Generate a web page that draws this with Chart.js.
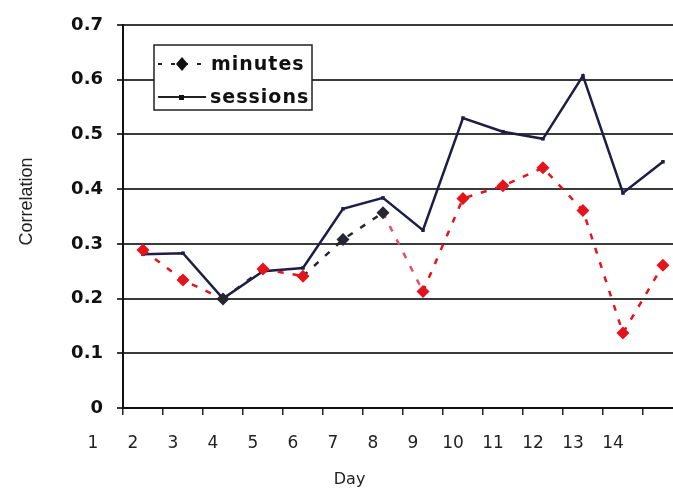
<!DOCTYPE html>
<html>
<head>
<meta charset="utf-8">
<script src="https://cdn.jsdelivr.net/npm/chart.js@4.4.1/dist/chart.umd.min.js"></script>
<style>
  html, body { margin: 0; padding: 0; background: #fff; overflow: hidden; }
  #wrap { width: 692px; height: 491px; position: relative; }
</style>
</head>
<body>
<div id="wrap"><canvas id="myChart"></canvas></div>
<script>
const days = ["1", "2", "3", "4", "5", "6", "7", "8", "9", "10", "11", "12", "13", "14"];
const minutes = [0.289, 0.234, 0.199, 0.254, 0.241, 0.308, 0.357, 0.213, 0.383, 0.406, 0.439, 0.361, 0.137, 0.261];
const sessions = [0.281, 0.283, 0.200, 0.250, 0.256, 0.364, 0.384, 0.325, 0.530, 0.505, 0.492, 0.607, 0.393, 0.450];

const RED = "#e3141b";
const NAVY = "#1d1d45";
const DARK = "#262630";

// the scan shows some minutes markers/segments dark, most red
const minutesPointColors = [RED, RED, DARK, RED, RED, DARK, DARK, RED, RED, RED, RED, RED, RED, RED];
const minutesSegColors = [RED, RED, DARK, RED, DARK, DARK, "#e0506a", RED, RED, RED, RED, RED, RED];

const NB = "\u00a0";

const legendBox = {
  id: "legendBox",
  afterDatasetsDraw(chart) {
    const c = chart.ctx;
    const x0 = chart.chartArea.left + 31;
    const y0 = chart.chartArea.top + 20;
    c.save();
    c.fillStyle = "#fff";
    c.fillRect(x0, y0, 158, 65);
    c.strokeStyle = "#222";
    c.lineWidth = 1.5;
    c.strokeRect(x0, y0, 158, 65);

    // minutes
    c.strokeStyle = "#222";
    c.lineWidth = 2;
    c.setLineDash([4, 9]);
    c.beginPath();
    c.moveTo(x0 + 4, y0 + 19);
    c.lineTo(x0 + 52, y0 + 19);
    c.stroke();
    c.setLineDash([]);
    c.fillStyle = "#111";
    c.beginPath();
    c.moveTo(x0 + 28, y0 + 12);
    c.lineTo(x0 + 34, y0 + 19);
    c.lineTo(x0 + 28, y0 + 26);
    c.lineTo(x0 + 22, y0 + 19);
    c.closePath();
    c.fill();

    // sessions
    c.lineWidth = 2;
    c.beginPath();
    c.moveTo(x0 + 4, y0 + 52);
    c.lineTo(x0 + 52, y0 + 52);
    c.stroke();
    c.fillRect(x0 + 25, y0 + 50, 5, 5);

    c.font = "bold 19px 'DejaVu Sans'";
    c.letterSpacing = "1px";
    c.textBaseline = "middle";
    c.fillStyle = "#111";
    c.fillText("minutes", x0 + 57, y0 + 20);
    c.fillText("sessions", x0 + 56, y0 + 53);
    c.restore();
  }
};

new Chart(document.getElementById("myChart"), {
  type: "line",
  data: {
    labels: days,
    datasets: [
      {
        label: "minutes",
        data: minutes,
        borderColor: RED,
        borderWidth: 2.5,
        borderDash: [6, 9],
        segment: {
          borderColor: (ctx) => minutesSegColors[ctx.p0DataIndex],
        },
        pointStyle: "rectRot",
        pointRadius: 6.5,
        pointBackgroundColor: minutesPointColors,
        pointBorderColor: minutesPointColors,
        pointBorderWidth: 0,
        tension: 0,
      },
      {
        label: "sessions",
        data: sessions,
        borderColor: NAVY,
        borderWidth: 2.5,
        pointStyle: "rect",
        pointRadius: 2.5,
        pointBackgroundColor: NAVY,
        pointBorderColor: NAVY,
        pointBorderWidth: 0,
        tension: 0,
      },
    ],
  },
  options: {
    responsive: true,
    maintainAspectRatio: false,
    animation: false,
    layout: {
      padding: { top: 25, right: 0, bottom: 0, left: 0 },
    },
    plugins: {
      legend: { display: false },
      tooltip: { enabled: false },
    },
    scales: {
      x: {
        type: "category",
        offset: true,
        grid: {
          offset: true,
          drawOnChartArea: false,
          tickLength: 7,
          color: "#222",
          lineWidth: 1.5,
        },
        border: { color: "#111", width: 2 },
        ticks: {
          labelOffset: -50,
          padding: 18,
          autoSkip: false,
          maxRotation: 0,
          color: "#222",
          font: { family: "'DejaVu Sans'", size: 17 },
        },
        title: {
          display: true,
          text: "Day" + NB.repeat(21),
          color: "#222",
          font: { family: "'DejaVu Sans'", size: 16 },
          padding: { top: 4, bottom: 2 },
        },
        afterFit(scale) {
          scale.height = 83;
        },
      },
      y: {
        min: 0,
        max: 0.7,
        grid: {
          color: "#3a3a3a",
          lineWidth: 2,
          tickLength: 6,
        },
        border: { color: "#111", width: 2 },
        ticks: {
          stepSize: 0.1,
          padding: 14,
          color: "#111",
          font: { family: "'DejaVu Sans'", size: 18, weight: "bold" },
          callback: (v) => (v === 0 ? "0" : v.toFixed(1)),
        },
        title: {
          display: true,
          text: NB.repeat(6) + "Correlation",
          color: "#222",
          font: { family: "'Liberation Sans'", size: 18 },
          padding: { top: 16, bottom: 0 },
        },
        afterFit(scale) {
          scale.width = 123;
        },
      },
    },
  },
  plugins: [legendBox],
});
</script>
</body>
</html>
